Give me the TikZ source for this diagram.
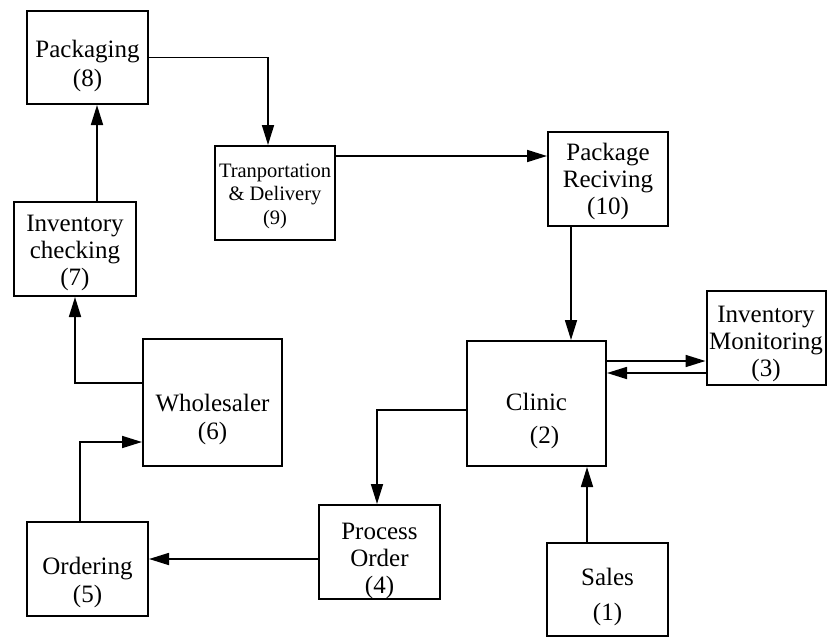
\documentclass[tikz,border=0pt]{standalone}
\usepackage{fontspec}
\setmainfont{Liberation Serif}
\usetikzlibrary{arrows.meta}

\tikzset{
	box/.style={draw, line width=2pt, inner sep=0pt},
	txt/.style={align=center, font=\fontsize{25}{27}\selectfont},
	arr/.style={line width=1.7pt, -{Triangle[length=20pt,width=12pt]}}
}

\begin{document}
\begin{tikzpicture}[x=1pt,y=-1pt]
	\useasboundingbox (0,0) rectangle (827,637);
	\node[box, minimum width=121, minimum height=93, label={[txt,font=\fontsize{25}{29}\selectfont,yshift=-8.5]center:{Packaging\\(8)}}] (pack) at (87.5,57.5) {};
	\node[box, minimum width=120, minimum height=94, label={[txt,font=\fontsize{20.5}{23.5}\selectfont,yshift=-3]center:{Tranportation\\\& Delivery\\(9)}}] (trans) at (275,193) {};
	\node[box, minimum width=120, minimum height=94, label={[txt,yshift=-2]center:{Package\\Reciving\\(10)}}] (recv) at (608,179) {};
	\node[box, minimum width=119, minimum height=94, label={[txt,yshift=-6]center:{Inventory\\Monitoring\\(3)}}] (monit) at (766,338) {};
	\node[box, minimum width=139, minimum height=125, label={[txt,font=\fontsize{25}{33}\selectfont,yshift=-17.5]center:{Clinic\\\hspace*{16pt}(2)}}] (clinic) at (536.5,403.5) {};
	\node[box, minimum width=121, minimum height=94, label={[txt,yshift=-9]center:{Process\\Order\\(4)}}] (proc) at (379.5,552) {};
	\node[box, minimum width=121, minimum height=94, label={[txt,font=\fontsize{25}{28}\selectfont,yshift=-13]center:{Ordering\\(5)}}] (order) at (87.5,569) {};
	\node[box, minimum width=139, minimum height=127, label={[txt,font=\fontsize{25}{28}\selectfont,yshift=-16.5]center:{Wholesaler\\(6)}}] (whole) at (212.5,402.5) {};
	\node[box, minimum width=122, minimum height=94, label={[txt,yshift=-4]center:{Inventory\\checking\\(7)}}] (inv) at (75,249) {};
	\node[box, minimum width=121, minimum height=93, label={[txt,font=\fontsize{25}{35}\selectfont,yshift=-7.5]center:{Sales\\(1)}}] (sales) at (607.5,589.5) {};

	\coordinate (t9) at ([yshift=37]trans.east);
	\coordinate (r10) at ([xshift=-37]recv.south);
	\coordinate (c2) at ([yshift=42.5]clinic.east);
	\coordinate (m3) at ([yshift=-35]monit.west);
	\coordinate (p4) at ([yshift=-7]proc.west);
	\coordinate (i7) at ([xshift=22]inv.north);
	\coordinate (s1) at ([xshift=-20.5]sales.north);

	\draw[arr] (s1) -- (s1 |- clinic.south);
	\draw[arr] (c2) -- (c2 -| monit.west);
	\draw[arr] (m3) -- (m3 -| clinic.east);
	\draw[arr] ([yshift=-6.5]clinic.west) -| ([xshift=-2.5]proc.north);
	\draw[arr] (p4) -- (p4 -| order.east);
	\draw[arr] ([xshift=-7.5]order.north) |- ([yshift=-39.5]whole.west);
	\draw[arr] ([yshift=19.5]whole.west) -| (inv.south);
	\draw[arr] (i7) -- (i7 |- pack.south);
	\draw[arr] (pack.east) -| ([xshift=-7]trans.north);
	\draw[arr] (t9) -- (t9 -| recv.west);
	\draw[arr] (r10) -- (r10 |- clinic.north);
\end{tikzpicture}
\end{document}
